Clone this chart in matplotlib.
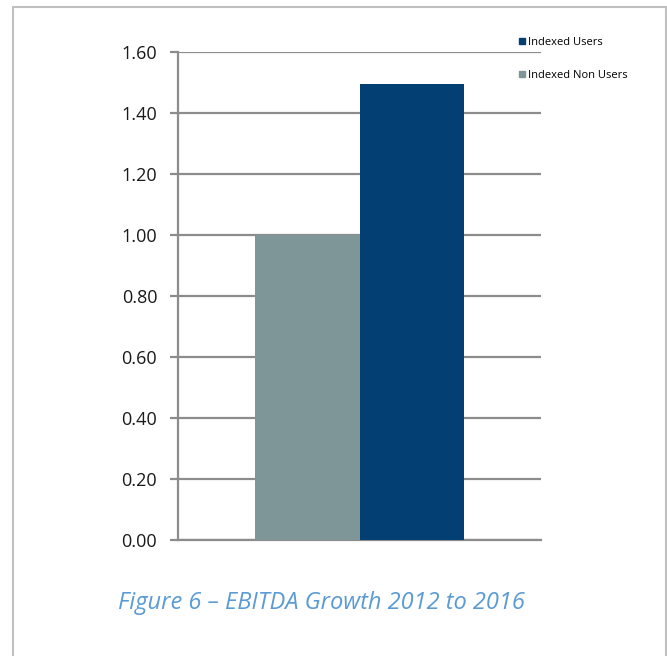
import matplotlib.pyplot as plt
from matplotlib.lines import Line2D
from matplotlib.patches import Rectangle

# data
series = ["Indexed Non Users", "Indexed Users"]
values = [1.00, 1.495]
colors = ["#7f9699", "#033f72"]
y_ticks = [0.0, 0.2, 0.4, 0.6, 0.8, 1.0, 1.2, 1.4, 1.6]
caption = "Figure 6 \u2013 EBITDA Growth 2012 to 2016"

plt.rcParams["font.family"] = ["Open Sans", "DejaVu Sans"]

fig = plt.figure(figsize=(6.67, 6.56), dpi=100)
ax = fig.add_axes([178 / 667, 1 - 540 / 656, (541 - 178) / 667, (540 - 52) / 656])

width = 0.287
offsets = [-width / 2, width / 2]
for name, v, c, off in zip(series, values, colors, offsets):
    ax.bar(0.5 + off, v, width=width, color=c, label=name, zorder=3)

ax.set_xlim(0, 1)
ax.set_ylim(0, 1.6)
ax.set_yticks(y_ticks)
ax.set_yticklabels([f"{t:.2f}" for t in y_ticks], fontsize=13, color="#1a1a1a")
ax.set_xticks([])
ax.yaxis.grid(True, color="#8c8c8c", linewidth=1.6, zorder=0)
ax.set_axisbelow(True)
ax.tick_params(axis="y", length=6, width=1.6, color="#8c8c8c", pad=9)
for side in ["top", "right"]:
    ax.spines[side].set_visible(False)
ax.spines["left"].set_color("#8c8c8c")
ax.spines["left"].set_linewidth(1.6)
ax.spines["bottom"].set_color("#8c8c8c")
ax.spines["bottom"].set_linewidth(1.6)

# legend, users first as in the original
handles = [Line2D([], [], marker="s", linestyle="", markersize=5, color=colors[1]),
           Line2D([], [], marker="s", linestyle="", markersize=5, color=colors[0])]
fig.legend(handles, [series[1], series[0]], loc="upper left",
           bbox_to_anchor=(506 / 667, 1 - 27 / 656), frameon=False,
           fontsize=8, handletextpad=0.1, labelspacing=1.95, handlelength=1.0)

fig.text(118 / 667, 1 - 603 / 656, caption, fontsize=17, style="italic",
         color="#5b9bd5", va="center", ha="left")

# outer frame
fig.patches.append(Rectangle((13 / 667, -0.1), (666 - 13) / 667, 1.1 - 7 / 656,
                             transform=fig.transFigure, fill=False,
                             edgecolor="#c0c0c0", linewidth=1.5))

fig.savefig("out.png", dpi=100)
